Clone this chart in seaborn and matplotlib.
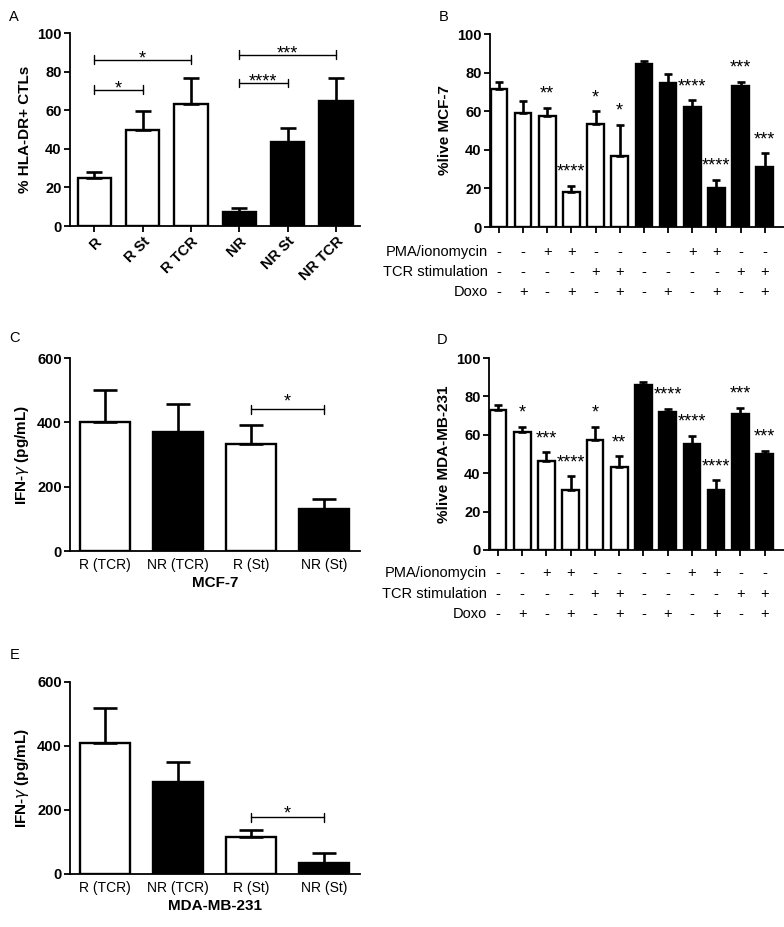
import matplotlib
matplotlib.use('Agg')
import matplotlib.pyplot as plt
import seaborn as sns
import pandas as pd
import numpy as np

sns.set_style('ticks')
plt.rcParams['font.family'] = ['Liberation Sans', 'DejaVu Sans']
for k in ['text.color', 'axes.labelcolor', 'xtick.color', 'ytick.color', 'axes.edgecolor']:
    plt.rcParams[k] = 'black'

# Panel A - HLA-DR+ CTLs
a_groups = ['R', 'R St', 'R TCR', 'NR', 'NR St', 'NR TCR']
a_mean = [24.7, 49.8, 63.1, 7.2, 43.6, 65.0]
a_err = [3.2, 10.0, 13.6, 1.9, 7.3, 11.7]
a_fill = ['white', 'white', 'white', 'black', 'black', 'black']

# Panel B - %live MCF-7
b_mean = [71.7, 59.2, 57.3, 18.3, 53.3, 37.0, 84.4, 74.7, 62.2, 20.0, 73.0, 31.2]
b_err = [3.5, 5.9, 4.5, 3.1, 6.6, 16.0, 1.5, 4.5, 3.4, 4.3, 2.2, 7.0]
b_stars = ['', '', '**', '****', '*', '*', '', '', '****', '****', '***', '***']

# Panel D - %live MDA-MB-231
d_mean = [72.7, 61.7, 46.4, 31.3, 57.4, 43.3, 85.7, 71.7, 55.1, 31.3, 71.0, 49.9]
d_err = [3.0, 2.3, 4.4, 7.0, 6.6, 5.4, 1.6, 1.9, 4.4, 4.9, 2.9, 1.8]
d_stars = ['', '*', '***', '****', '*', '**', '', '****', '****', '****', '***', '***']

live_fill = ['white'] * 6 + ['black'] * 6
pma = ['-', '-', '+', '+', '-', '-', '-', '-', '+', '+', '-', '-']
tcr = ['-', '-', '-', '-', '+', '+', '-', '-', '-', '-', '+', '+']
doxo = ['-', '+', '-', '+', '-', '+', '-', '+', '-', '+', '-', '+']
row_names = ['PMA/ionomycin', 'TCR stimulation', 'Doxo']

# Panels C and E - IFN-gamma
ifn_groups = ['R (TCR)', 'NR (TCR)', 'R (St)', 'NR (St)']
ifn_fill = ['white', 'black', 'white', 'black']
c_mean = [401, 369, 332, 130]
c_err = [98, 88, 61, 32]
e_mean = [410, 288, 117, 34]
e_err = [109, 61, 21, 31]

pal = {'white': 'white', 'black': 'black'}
STAR = 13


def bars(ax, labels, means, errs, fills, width, capsize):
    df = pd.DataFrame({'g': labels, 'v': means, 'fill': fills})
    sns.barplot(data=df, x='g', y='v', hue='fill', palette=pal, order=labels,
                dodge=False, width=width, edgecolor='black', linewidth=1.7,
                errorbar=None, legend=False, ax=ax)
    ax.errorbar(np.arange(len(means)), means, yerr=[np.zeros(len(errs)), errs],
                fmt='none', ecolor='black', elinewidth=1.9, capsize=capsize,
                capthick=1.9, zorder=5)
    sns.despine(ax=ax)
    for s in ['left', 'bottom']:
        ax.spines[s].set_linewidth(1.3)
    ax.tick_params(direction='out', length=4, width=1.3, labelsize=10.5, pad=2)
    ax.set_xlabel('')


def bracket(ax, x0, x1, y, h, txt, dy):
    ax.plot([x0, x1], [y, y], color='black', lw=1.0)
    ax.plot([x0, x0], [y - h, y + h], color='black', lw=1.0)
    ax.plot([x1, x1], [y - h, y + h], color='black', lw=1.0)
    ax.text((x0 + x1) / 2, y + dy, txt, ha='center', va='baseline', fontsize=STAR)


fig = plt.figure(figsize=(7.84, 9.27), dpi=100)

# A
axA = fig.add_axes([0.0893, 0.7562, 0.3699, 0.2082])
bars(axA, a_groups, a_mean, a_err, a_fill, 0.69, 5.8)
axA.set_ylim(0, 100)
axA.set_xlim(-0.5, 5.5)
axA.set_yticks([0, 20, 40, 60, 80, 100])
axA.set_xticks(range(6))
axA.set_xticklabels(a_groups, rotation=45, ha='right', rotation_mode='anchor',
                    fontweight='bold', fontsize=10.5)
for t in axA.get_yticklabels():
    t.set_fontweight('bold')
axA.set_ylabel('% HLA-DR+ CTLs', fontsize=11, fontweight='bold')
bracket(axA, 0, 1, 70.7, 2.3, '*', -2)
bracket(axA, 0, 2, 86.2, 2.3, '*', -2)
bracket(axA, 3, 4, 74.1, 2.3, '****', -2)
bracket(axA, 3, 5, 88.8, 2.3, '***', -2)


def live_panel(rect, means, errs, stars, ylab, rows_y):
    ax = fig.add_axes(rect)
    bars(ax, ['c%d' % i for i in range(12)], means, errs, live_fill, 0.69, 2.8)
    ax.set_ylim(0, 100)
    ax.set_xlim(-0.37, 11.8)
    ax.set_yticks([0, 20, 40, 60, 80, 100])
    for t in ax.get_yticklabels():
        t.set_fontweight('bold')
    ax.set_xticks(range(12))
    ax.set_xticklabels([''] * 12)
    ax.set_ylabel(ylab, fontsize=11, fontweight='bold')
    for i, s in enumerate(stars):
        if s:
            ax.text(i, means[i] + errs[i] + 4.8, s, ha='center', va='baseline',
                    fontsize=STAR)
    tr = ax.get_xaxis_transform()
    for name, row, yy in zip(row_names, [pma, tcr, doxo], rows_y):
        ax.text(-0.45, yy, name, transform=tr, ha='right', va='center',
                fontsize=10.5)
        for i, s in enumerate(row):
            ax.text(i, yy, s, transform=tr, ha='center', va='center',
                    fontsize=10.5)
    return ax


live_panel([0.625, 0.7551, 0.375, 0.2082], b_mean, b_err, b_stars,
           '%live MCF-7', [-0.13, -0.233, -0.337])
live_panel([0.6237, 0.4067, 0.3763, 0.2071], d_mean, d_err, d_stars,
           '%live MDA-MB-231', [-0.12, -0.229, -0.333])


def ifn_panel(rect, means, errs, xlab, by, bdy):
    ax = fig.add_axes(rect)
    bars(ax, ifn_groups, means, errs, ifn_fill, 0.68, 8.6)
    ax.set_ylim(0, 600)
    ax.set_xlim(-0.48, 3.49)
    ax.set_yticks([0, 200, 400, 600])
    for t in ax.get_yticklabels():
        t.set_fontweight('bold')
    ax.set_xticks(range(4))
    ax.set_xticklabels(ifn_groups, fontsize=10)
    ax.tick_params(axis='x', length=0, pad=5)
    ax.set_xlabel(xlab, fontsize=11, fontweight='bold', labelpad=3)
    ax.set_ylabel(r'IFN-$\gamma$ (pg/mL)', fontsize=11, fontweight='bold')
    bracket(ax, 2, 3, by, 14, '*', bdy)
    return ax


ifn_panel([0.0893, 0.4056, 0.3699, 0.2082], c_mean, c_err, 'MCF-7', 440, 8)
ifn_panel([0.0893, 0.0572, 0.3699, 0.2071], e_mean, e_err, 'MDA-MB-231', 178, -6)

for lab, x, y in [('A', 0.012, 0.982), ('B', 0.560, 0.982), ('C', 0.012, 0.635),
                  ('D', 0.557, 0.633), ('E', 0.012, 0.293)]:
    fig.text(x, y, lab, fontsize=10.5, va='center', ha='left')

fig.savefig('out.png', dpi=100)
